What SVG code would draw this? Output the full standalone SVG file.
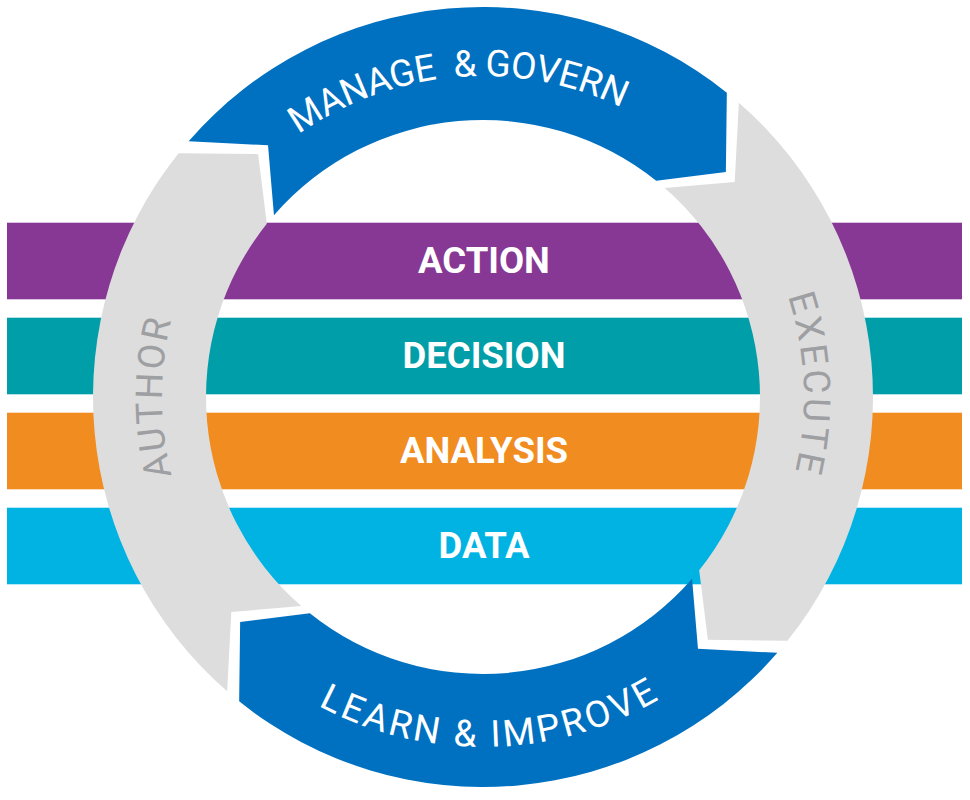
<svg xmlns="http://www.w3.org/2000/svg" width="970" height="800" viewBox="0 0 970 800">
<style>
.band-label{font-family:Roboto,"Liberation Sans",Arial,sans-serif;font-weight:700;font-size:36.5px;fill:#ffffff;text-anchor:middle}
.arc-text{font-family:Roboto,"Liberation Sans",Arial,sans-serif;font-weight:400;font-size:37px}
.white{fill:#ffffff}
.grey-text{fill:#9D9FA2}
.blue{fill:#0071C1}
.gray{fill:#DDDDDD}
</style>
<defs>
<path id="seg" d="M -294.34 -255.86 A 390 390 0 0 1 243.84 -304.37 L 242.86 -224.89 L 173.19 -216.18 A 277 277 0 0 0 -209.05 -181.73 L -214.97 -251.70 Z"/>
<path id="pTop" d="M 162 397 A 321 321 0 0 1 804 397"/>
<path id="pRight" d="M 483 76 A 321 321 0 0 1 483 718"/>
<path id="pLeft" d="M 483 718 A 321 321 0 0 1 483 76"/>
<path id="pBottom" d="M 133 397 A 350 350 0 0 0 833 397"/>
</defs>
<rect width="970" height="800" fill="#ffffff"/>
<g id="action">
<rect x="7" y="222.7" width="955" height="76.6" fill="#863894"/>
<text class="band-label" x="484" y="272.7">ACTION</text>
</g>
<g id="decision">
<rect x="7" y="317.7" width="955" height="76.6" fill="#009EA8"/>
<text class="band-label" x="484" y="367.7">DECISION</text>
</g>
<g id="analysis">
<rect x="7" y="412.7" width="955" height="76.6" fill="#F18C21"/>
<text class="band-label" x="484" y="462.7">ANALYSIS</text>
</g>
<g id="data">
<rect x="7" y="507.7" width="955" height="76.6" fill="#00B3E3"/>
<text class="band-label" x="484" y="557.7">DATA</text>
</g>
<g id="manage-govern">
<use href="#seg" class="blue" transform="translate(483 397)"/>
<text class="arc-text white" transform="rotate(-4.8 483 397)" letter-spacing="-0.6"><textPath href="#pTop" startOffset="50%" text-anchor="middle">MANAGE <tspan dx="9">&amp;</tspan> GOVERN</textPath></text>
</g>
<g id="execute">
<use href="#seg" class="gray" transform="translate(483 397) rotate(90)"/>
<text class="arc-text grey-text" transform="rotate(-2.2 483 397)" letter-spacing="3.5"><textPath href="#pRight" startOffset="50%" text-anchor="middle">EXECUTE</textPath></text>
</g>
<g id="learn-improve">
<use href="#seg" class="blue" transform="translate(483 397) rotate(180)"/>
<text class="arc-text white" transform="rotate(-1.3 483 397)" letter-spacing="3"><textPath href="#pBottom" startOffset="50%" text-anchor="middle">LEARN &amp; IMPROVE</textPath></text>
</g>
<g id="author">
<use href="#seg" class="gray" transform="translate(483 397) rotate(270)"/>
<text class="arc-text grey-text" letter-spacing="2.4"><textPath href="#pLeft" startOffset="50%" text-anchor="middle">AUTHOR</textPath></text>
</g>
<g id="connectors"/>
</svg>
